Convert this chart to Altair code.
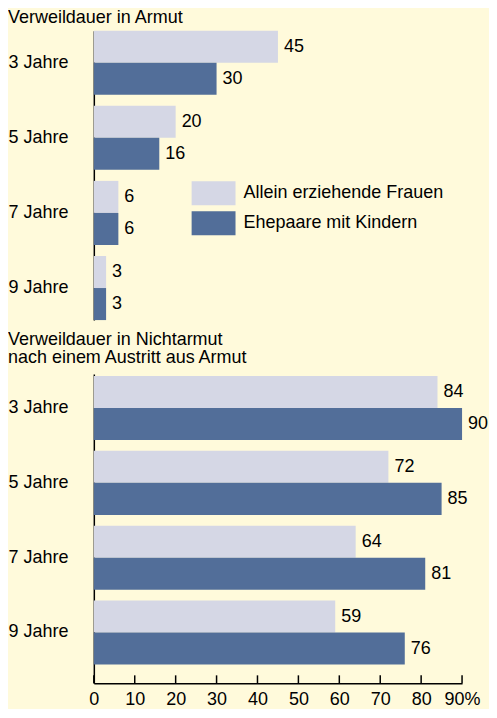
import altair as alt
import pandas as pd

jahre = ["3 Jahre", "5 Jahre", "7 Jahre", "9 Jahre"]
gruppen = ["Allein erziehende Frauen", "Ehepaare mit Kindern"]
armut_allein = [45, 20, 6, 3]
armut_ehepaare = [30, 16, 6, 3]
nicht_allein = [84, 72, 64, 59]
nicht_ehepaare = [90, 85, 81, 76]
x_ticks = [0, 10, 20, 30, 40, 50, 60, 70, 80, 90]

LIGHT = "#D5D7E5"
DARK = "#526E99"
BG = "#FFFADB"
FONT = "Liberation Sans"
FS = 18
W = 369


def frame(a, b):
    rows = []
    for j, va, vb in zip(jahre, a, b):
        rows.append({"Jahre": j, "Gruppe": gruppen[0], "Wert": va})
        rows.append({"Jahre": j, "Gruppe": gruppen[1], "Wert": vb})
    return pd.DataFrame(rows)


def panel(df, title, height, y_scale, show_x, show_legend, title_offset):
    x_scale = alt.Scale(domain=[0, 90], nice=False, zero=True)
    if show_x:
        x_axis = alt.Axis(
            title=None, values=x_ticks, grid=False, ticks=False, tickSize=0,
            domainColor="black", domainWidth=1.5, labelPadding=7,
            labelFontSize=FS, labelColor="black", labelFont=FONT,
            labelOverlap=False, labelFlush=False,
            labelExpr="datum.value == 90 ? '90%' : datum.label",
        )
    else:
        x_axis = None
    y = alt.Y(
        "Jahre:N", sort=jahre, scale=y_scale,
        axis=alt.Axis(
            title=None, ticks=False, tickSize=0, labelAlign="left",
            labelPadding=86, domainColor="black", domainWidth=1.5,
            labelFontSize=FS, labelColor="black", labelFont=FONT,
        ),
    )
    yoff = alt.YOffset("Gruppe:N", sort=gruppen,
                       scale=alt.Scale(paddingInner=0, paddingOuter=0))
    if show_legend:
        legend = alt.Legend(
            title=None, orient="none", legendX=108, legendY=151,
            symbolType="M-1.833,-1H1.833V1H-1.833Z", symbolSize=576,
            symbolStrokeWidth=0, symbolOpacity=1, labelFontSize=FS,
            labelFont=FONT, labelColor="black", labelOffset=18,
            labelLimit=400, rowPadding=6, padding=0,
        )
    else:
        legend = None
    color = alt.Color("Gruppe:N", sort=gruppen,
                      scale=alt.Scale(domain=gruppen, range=[LIGHT, DARK]),
                      legend=legend)
    x_enc = alt.X("Wert:Q", scale=x_scale, axis=x_axis)
    bars = alt.Chart(df).mark_bar(opacity=1).encode(
        x=x_enc, y=y, yOffset=yoff, color=color,
    )
    text = alt.Chart(df).mark_text(
        align="left", baseline="middle", dx=6, fontSize=FS, font=FONT, color="black"
    ).encode(
        x=x_enc, y=y, yOffset=yoff, text="Wert:Q",
    )
    layers = [bars, text]
    if show_x:
        tdf = pd.DataFrame({"Wert": x_ticks})
        ticks = alt.Chart(tdf).mark_rule(color="black", strokeWidth=1.5).encode(
            x=x_enc,
            y=alt.value(height - 8), y2=alt.value(height),
        )
        layers.append(ticks)
    return alt.layer(*layers).properties(
        width=W, height=height,
        title=alt.TitleParams(title, anchor="start", fontSize=FS, fontWeight="normal",
                              font=FONT, color="black", offset=title_offset,
                              lineHeight=18),
    )


top = panel(
    frame(armut_allein, armut_ehepaare), "Verweildauer in Armut", 290,
    alt.Scale(paddingInner=11 / 75, paddingOuter=0), False, True, 4,
)
bottom = panel(
    frame(nicht_allein, nicht_ehepaare),
    ["Verweildauer in Nichtarmut", "nach einem Austritt aus Armut"], 310,
    alt.Scale(paddingInner=11 / 75, paddingOuter=10.5 / 75, align=2 / 21), True, False, 7,
)

chart = alt.vconcat(top, bottom, spacing=11).properties(
    padding={"left": 0, "top": 0, "right": 0, "bottom": 0}
).configure(
    background=BG, font=FONT
).configure_view(stroke=None)

chart.save("out.html", embed_options={"renderer": "svg", "actions": False})
